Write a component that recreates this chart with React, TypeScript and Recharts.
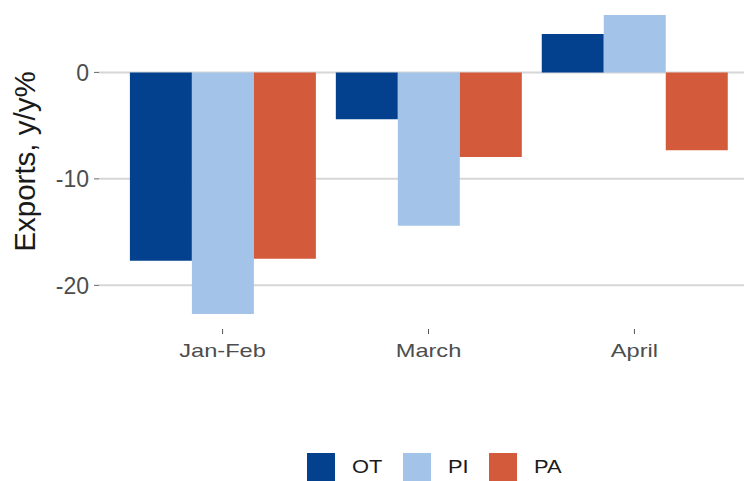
import React from 'react';
import { BarChart, Bar, XAxis, YAxis, CartesianGrid, Legend, Label } from 'recharts';

const categories = ['Jan-Feb', 'March', 'April'];
const otValues = [-17.7, -4.4, 3.6];
const piValues = [-22.7, -14.4, 5.4];
const paValues = [-17.5, -7.95, -7.3];
const yTicks = [-20, -10, 0];
const yDomain = [-24.1, 6.8];
const seriesNames = ['OT', 'PI', 'PA'];
const seriesColors = ['#03408d', '#a3c4e8', '#d35b3b'];

const data = categories.map((c, i) => ({
  category: c,
  OT: otValues[i],
  PI: piValues[i],
  PA: paValues[i],
}));

const FONT = 'Liberation Sans, Arial, sans-serif';

const XTick = (props: any) => {
  const { x, y, payload } = props;
  return (
    <g transform={`translate(${x},${y})`}>
      <text
        transform="scale(1.35,1)"
        textAnchor="middle"
        dy="0.71em"
        fontSize={17.5}
        fill="#4d4d4d"
        fontFamily={FONT}
      >
        {payload.value}
      </text>
    </g>
  );
};

const LegendContent = () => {
  const textWidths = [51, 41, 40];
  return (
    <div style={{ display: 'flex', alignItems: 'center', height: 28, paddingLeft: 307, fontFamily: FONT }}>
      {seriesNames.map((n, i) => (
        <div key={n} style={{ display: 'flex', alignItems: 'center' }}>
          <div style={{ width: 28, height: 28, background: seriesColors[i], marginRight: 17 }} />
          <span
            style={{
              display: 'inline-block',
              width: textWidths[i],
              fontSize: 19,
              color: '#1a1a1a',
              transform: 'scaleX(1.15)',
              transformOrigin: 'left center',
            }}
          >
            {n}
          </span>
        </div>
      ))}
    </div>
  );
};

const YTitle = (props: any) => {
  const vb = props.viewBox || { y: 0, height: 329 };
  const cx = 24;
  const cy = vb.y + vb.height / 2 - 3;
  return (
    <text
      x={cx}
      y={cy}
      transform={`rotate(-90, ${cx}, ${cy})`}
      textAnchor="middle"
      dominantBaseline="central"
      fontSize={29.5}
      fill="#1a1a1a"
      fontFamily={FONT}
    >
      Exports, y/y%
    </text>
  );
};

const gridGenerator = (props: any) => {
  const off = props.offset || { top: 0, height: 329 };
  const top = off.top;
  const h = off.height;
  return yTicks.map((t) => top + ((yDomain[1] - t) / (yDomain[1] - yDomain[0])) * h);
};

export default function App() {
  return (
    <div style={{ position: 'absolute', left: 0, top: 0, width: 744, height: 481, overflow: 'hidden', background: '#fff' }}>
      <BarChart
        width={760}
        height={481}
        data={data}
        margin={{ top: 0, right: 2, left: 0, bottom: 0 }}
        barCategoryGap="5%"
        barGap={0}
      >
        <CartesianGrid
          vertical={false}
          stroke="#d6d6d6"
          strokeWidth={2}
          horizontalCoordinatesGenerator={gridGenerator}
        />
        <XAxis
          dataKey="category"
          axisLine={false}
          tickLine={{ stroke: '#555', strokeWidth: 1 }}
          tickSize={5}
          tickMargin={11}
          padding={{ left: 20.6, right: 20.6 }}
          height={124}
          interval={0}
          tick={<XTick />}
        />
        <YAxis
          domain={yDomain}
          ticks={yTicks}
          axisLine={false}
          tickLine={{ stroke: '#666', strokeWidth: 1 }}
          tickSize={5}
          tickMargin={5}
          width={99}
          tick={{ fontSize: 23, fill: '#4d4d4d', fontFamily: FONT }}
        >
          <Label content={<YTitle />} />
        </YAxis>
        <Legend
          verticalAlign="bottom"
          content={<LegendContent />}
          wrapperStyle={{ left: 0, bottom: 0, width: 760, height: 28 }}
        />
        {seriesNames.map((n, i) => (
          <Bar key={n} dataKey={n} fill={seriesColors[i]} isAnimationActive={false} />
        ))}
      </BarChart>
    </div>
  );
}
